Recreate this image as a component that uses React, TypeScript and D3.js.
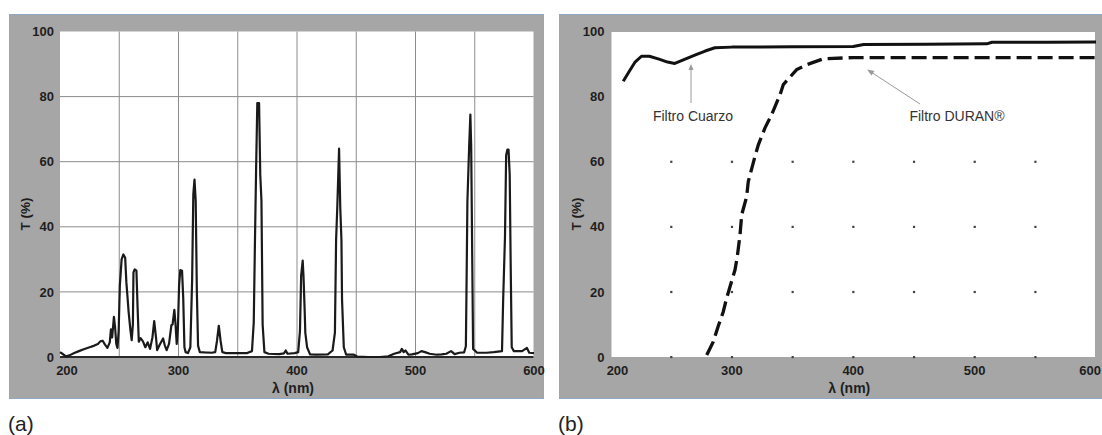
import React from "react";
import * as d3 from "d3";

// ---------- DATA ----------
// Panel (a): lamp emission spectrum, [wavelength nm, T %]
const spectrumNm = [200,202,205,208,212,216,220,225,229,232,234,236,238,240,242,243,244,245.5,246.5,247.5,248.5,249.5,250.5,252,253.5,255,256,258,259.5,260.5,261.5,262,263,264.5,265.5,266.5,268,270,272,274,276,278,279.5,281,282,284,287,288.5,290,292,294,295,296.5,297.5,298.5,299.5,300.5,301.5,303,304,305,306,308,310,311.5,312.5,313.5,314.5,315.5,316.5,318,322,328,331,332.5,334,335.5,337,340,350,358,362,363.5,364.5,365.5,366.5,368,369,370,371,372.5,376,385,389,390.5,392,398,401,402.5,403.5,404.8,405.5,406.5,407,408.5,411,416,426,430,432,433,434,435.5,436.5,437.5,438,439.5,441.5,448,451,460,470,477,482,487,488.5,490,491.5,494,497,502,505,508,512,518,522,526,530,533,537,541,542.5,543,543.8,545.3,546.3,547,548.6,552,560,566,573,574,575.5,576.5,577.5,578.5,579.5,580.3,581.2,583,590,594,596,600];
const spectrumT = [1.5,1.0,0.2,0.5,1.2,1.8,2.4,3.0,3.5,4.0,4.8,5.0,3.8,2.8,4.5,8.5,6,12.3,9,4,2.8,8,22,30,31.5,30.5,23,13.5,8,5.2,10,26,26.9,26.5,15,4.7,5.8,4.8,3.0,4.5,2.5,6,11,6,2.1,3.7,5.7,3.5,2.1,4,9.8,10,14.5,10,4,9,22,26.7,26.5,18,3,1.5,1.2,3,23.7,50,54.5,48,20,3.5,1.5,1.4,1.3,1.5,5,9.6,5,1.5,1.2,1.2,1.2,1.8,10.6,35,58,78,78,56,48,10,1.5,1.0,0.9,1.1,2.0,1.0,1.2,1.5,8,25,29.6,24.7,14,7.5,3,0.8,0.7,0.8,2,7.5,36,46,64,46,36,17.7,3,0.7,0.7,0.1,0,0,0.2,1,1.5,2.5,1.5,2,0.7,0.8,1.2,1.8,1.5,1,0.7,0.8,1.0,1.8,0.9,1.3,1.4,3.3,19.5,47.8,65,74.5,64.6,2.5,1.3,1.3,1.5,1.8,18,36.7,62,63.7,63.7,56,29,3,1.8,1.8,2.8,1.3,1.2];

// Panel (b): filter transmission curves
const quartzNm = [210.5,215,220,225.5,232,240,247,253,260,270,278,286,300,350,400,408.6,460,510,514.3,560,600];
const quartzT = [84.7,87.5,90.5,92.4,92.4,91.5,90.6,90.2,91.3,92.8,94,95,95.2,95.3,95.4,96,96.1,96.2,96.7,96.7,96.8];
const duranNm = [279.3,284.7,288.8,292.9,295.7,302.6,304.5,306.7,308.1,312.2,313.5,319,321.8,327.3,332.8,339.7,342.4,353.4,361.6,375.3,400,450,500,550,600];
const duranT = [0.6,4.7,9.5,13.9,18.1,26.8,31,37.5,43.7,49.3,53.9,61.6,65.2,70.4,74.5,80.6,83.7,88.3,89.8,91.6,92,92,92,92,92];

const xTicks = [200, 300, 400, 500, 600];
const yTicks = [0, 20, 40, 60, 80, 100];
const xGrid = [250, 300, 350, 400, 450, 500, 550];
const yGrid = [20, 40, 60, 80];
const dotRows = [0, 20, 40, 60];
const xLabel = "λ (nm)";
const yLabel = "T (%)";
const labelQuartz = "Filtro Cuarzo";
const labelDuran = "Filtro DURAN®";

const FONT = "'Liberation Sans', Arial, sans-serif";
const FRAME = "#a6a6a6";
const BORDER = "#8fa8c8";

function Axes({ x, y, firstShift, lastAnchorEnd }: any) {
  const [rx0] = x.range();
  return (
    <g fontFamily={FONT} fontWeight="bold" fontSize={13} fill="#1e1e1e">
      {yTicks.map((t) => (
        <text key={"y" + t} x={rx0 - 6} y={y(t)} dy="0.36em" textAnchor="end">{t}</text>
      ))}
      {xTicks.map((t, i) => {
        const isFirst = i === 0;
        const isLast = i === xTicks.length - 1;
        if (isLast && lastAnchorEnd) {
          return <text key={"x" + t} x={1101} y={375} textAnchor="end">{t}</text>;
        }
        return (
          <text key={"x" + t} x={x(t) + (isFirst ? firstShift : 0)} y={375} textAnchor="middle">{t}</text>
        );
      })}
      <text x={x(400) - 4} y={393} textAnchor="middle" fontSize={14}>{xLabel}</text>
      <text transform={`translate(${rx0 - 30},${214}) rotate(-90)`} textAnchor="middle" fontSize={13.5}>{yLabel}</text>
    </g>
  );
}

export default function App() {
  const yA = d3.scaleLinear().domain([0, 100]).range([357, 31.5]);
  const xA = d3.scaleLinear().domain([200, 600]).range([60, 534]);
  const xB = d3.scaleLinear().domain([200, 600]).range([610.5, 1096]);

  const specData = spectrumNm.map((n, i) => [n, spectrumT[i]] as [number, number]);
  const qData = quartzNm.map((n, i) => [n, quartzT[i]] as [number, number]);
  const dData = duranNm.map((n, i) => [n, duranT[i]] as [number, number]);

  const lineA = d3.line<[number, number]>().x((d) => xA(d[0])).y((d) => yA(d[1]));
  const lineB = d3.line<[number, number]>().x((d) => xB(d[0])).y((d) => yA(d[1]));

  return (
    <svg width={1102} height={435} style={{ position: "absolute", left: 0, top: 0, background: "#fff" }}>
      {/* Panel (a) */}
      <rect x={9.5} y={14.5} width={534} height={384} fill={FRAME} stroke={BORDER} strokeWidth={1} />
      <rect x={60} y={31.5} width={473.5} height={325.5} fill="#fff" />
      {yGrid.map((g) => (
        <line key={"ga" + g} x1={60} x2={533.5} y1={yA(g)} y2={yA(g)} stroke="#8c8c8c" strokeWidth={1} />
      ))}
      {xGrid.map((g) => (
        <line key={"gv" + g} x1={xA(g)} x2={xA(g)} y1={31.5} y2={357} stroke="#8c8c8c" strokeWidth={1} />
      ))}
      <line x1={60} x2={533.5} y1={357} y2={357} stroke="#2a2a2a" strokeWidth={2} />
      <path d={lineA(specData) || ""} fill="none" stroke="#1a1a1a" strokeWidth={2.2} strokeLinejoin="round" />
      <Axes x={xA} y={yA} firstShift={7} lastAnchorEnd={false} />
      <text x={8} y={431} fontFamily={FONT} fontSize={21} fill="#222">(a)</text>

      {/* Panel (b) */}
      <rect x={559.5} y={14.5} width={560} height={384} fill={FRAME} stroke={BORDER} strokeWidth={1} />
      <rect x={611.5} y={32} width={483.5} height={325} fill="#fff" />
      {xGrid.map((gx) =>
        dotRows.map((gy) => (
          <rect key={`d${gx}-${gy}`} x={xB(gx) - 1} y={yA(gy) - 1} width={2.2} height={2.2} fill="#444" />
        ))
      )}
      <path d={lineB(qData) || ""} fill="none" stroke="#111" strokeWidth={3} strokeLinejoin="round" />
      <path d={lineB(dData) || ""} fill="none" stroke="#111" strokeWidth={3.3} strokeDasharray="15 6" />
      {/* annotations */}
      <g stroke="#9a9a9a" strokeWidth={1} fill="#9a9a9a">
        <line x1={691} y1={103} x2={691} y2={68} />
        <path d="M691,64 L688.5,70 L693.5,70 Z" stroke="none" />
        <line x1={920} y1={104} x2={871} y2={72} />
        <path d="M867,69.5 L874.5,71 L871.5,75.5 Z" stroke="none" />
      </g>
      <text x={693} y={121} textAnchor="middle" fontFamily={FONT} fontSize={14} fill="#333">{labelQuartz}</text>
      <text x={957} y={121} textAnchor="middle" fontFamily={FONT} fontSize={14} fill="#333">{labelDuran}</text>
      <Axes x={xB} y={yA} firstShift={7} lastAnchorEnd={true} />
      <text x={558} y={431} fontFamily={FONT} fontSize={21} fill="#222">(b)</text>
    </svg>
  );
}
